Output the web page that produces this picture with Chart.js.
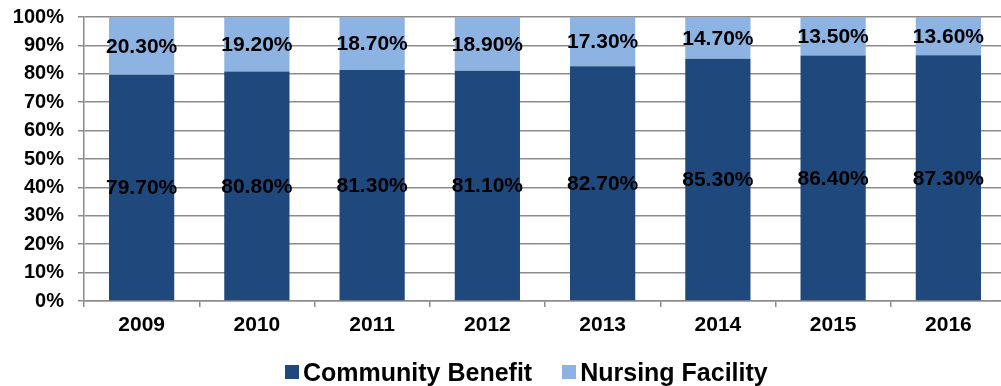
<!DOCTYPE html>
<html>
<head>
<meta charset="utf-8">
<script src="https://cdn.jsdelivr.net/npm/chart.js@4.4.1/dist/chart.umd.min.js"></script>
<style>
  html, body { margin: 0; padding: 0; background: #fff; overflow: hidden; }
  #wrap { position: relative; width: 1007px; height: 386px; }
  #legend {
    position: absolute; left: 285px; top: 357px; height: 30px;
    display: flex; align-items: center;
    font: bold 25px "Liberation Sans", Arial, sans-serif; color: #000;
    white-space: nowrap;
  }
  #legend .item { display: flex; align-items: center; margin-right: 30px; }
  #legend .box { width: 14px; height: 14px; margin-right: 4px; }
</style>
</head>
<body>
<div id="wrap">
  <canvas id="chart-share" width="1007" height="386"></canvas>
  <div id="legend"></div>
</div>
<script>
  var years = ["2009", "2010", "2011", "2012", "2013", "2014", "2015", "2016"];
  var communityBenefit = [79.7, 80.8, 81.3, 81.1, 82.7, 85.3, 86.4, 87.3];
  var nursingFacility = [20.3, 19.2, 18.7, 18.9, 17.3, 14.7, 13.5, 13.6];
  var yTicks = [0, 10, 20, 30, 40, 50, 60, 70, 80, 90, 100];

  var FONT = "'Liberation Sans', Arial, sans-serif";
  var GRID = "#8c8c8c";

  // 100% stacked: each column is scaled to its own total
  function share(values, i) {
    var total = communityBenefit[i] + nursingFacility[i];
    return values[i] / total * 100;
  }

  var barLabels = {
    id: "barLabels",
    afterDatasetsDraw: function (chart) {
      var ctx = chart.ctx;
      ctx.save();
      ctx.font = "bold 21px " + FONT;
      ctx.fillStyle = "#000";
      ctx.textAlign = "center";
      ctx.textBaseline = "middle";
      chart.data.datasets.forEach(function (ds, di) {
        var meta = chart.getDatasetMeta(di);
        meta.data.forEach(function (el, i) {
          var p = el.getProps(["x", "y", "base"], true);
          ctx.fillText(ds.raw[i].toFixed(2) + "%", p.x, (p.y + p.base) / 2 + 1);
        });
      });
      ctx.restore();
    },
  };

  var datasets = [
    { label: "Community Benefit", raw: communityBenefit, color: "#1f497d" },
    { label: "Nursing Facility", raw: nursingFacility, color: "#8db3e2" },
  ].map(function (d) {
    return {
      label: d.label,
      raw: d.raw,
      data: d.raw.map(function (v, i) { return share(d.raw, i); }),
      backgroundColor: d.color,
      borderWidth: 0,
      categoryPercentage: 1,
      barPercentage: 0.566,
    };
  });

  var chart = new Chart(document.getElementById("chart-share").getContext("2d"), {
    type: "bar",
    data: { labels: years, datasets: datasets },
    plugins: [barLabels],
    options: {
      responsive: false,
      animation: false,
      devicePixelRatio: 1,
      layout: { padding: { top: 17, right: 1, bottom: 0, left: 0 } },
      plugins: { legend: { display: false }, tooltip: { enabled: false } },
      scales: {
        x: {
          stacked: true,
          grid: { offset: true, drawOnChartArea: false, drawTicks: true, tickLength: 6, color: GRID, lineWidth: 1.5 },
          border: { display: true, color: GRID, width: 1.5 },
          ticks: { color: "#000", font: { family: FONT, size: 21, weight: "bold" }, padding: 6 },
          afterFit: function (s) { s.height = 85; s.paddingLeft = 0; s.paddingRight = 0; },
        },
        y: {
          stacked: true,
          min: 0,
          max: 100,
          afterBuildTicks: function (s) { s.ticks = yTicks.map(function (v) { return { value: v }; }); },
          grid: { color: GRID, lineWidth: 1.5, drawTicks: true, tickLength: 6 },
          border: { display: true, color: GRID, width: 1.5 },
          ticks: {
            color: "#000",
            font: { family: FONT, size: 20, weight: "bold" },
            padding: 14,
            callback: function (v) { return v + "%"; },
          },
          afterFit: function (s) { s.width = 84; s.paddingTop = 0; s.paddingBottom = 0; },
        },
      },
    },
  });

  var legend = document.getElementById("legend");
  chart.data.datasets.forEach(function (ds) {
    var item = document.createElement("div");
    item.className = "item";
    var box = document.createElement("span");
    box.className = "box";
    box.style.background = ds.backgroundColor;
    var txt = document.createElement("span");
    txt.textContent = ds.label;
    item.appendChild(box);
    item.appendChild(txt);
    legend.appendChild(item);
  });
</script>
</body>
</html>
